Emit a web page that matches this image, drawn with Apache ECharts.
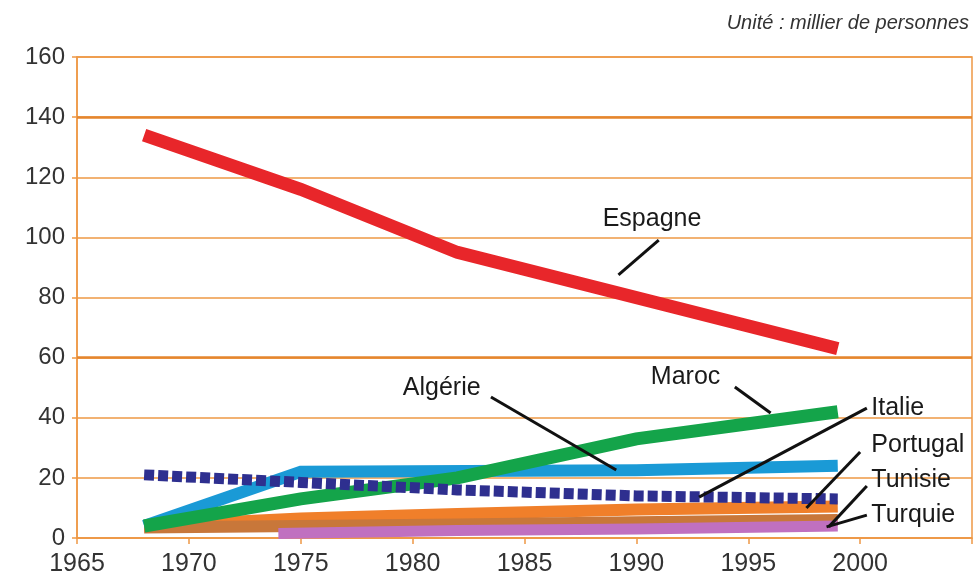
<!DOCTYPE html>
<html><head><meta charset="utf-8">
<script src="https://cdn.jsdelivr.net/npm/echarts@6/dist/echarts.min.js"></script>
<style>html,body{margin:0;padding:0;background:#fff}#c{width:978px;height:582px}</style>
</head><body><div id="c"></div>
<script>
// ---- data ----
const espagneYears = [1968, 1975, 1982, 1999];
const espagneVals  = [134, 116, 95, 63];
const algerieYears = [1968, 1975, 1990, 1999];
const algerieVals  = [4, 22, 22.5, 24];
const marocYears   = [1968, 1975, 1982, 1990, 1999];
const marocVals    = [4, 13, 20, 33, 42];
const italieYears  = [1968, 1975, 1982, 1990, 1999];
const italieVals   = [21, 18.5, 16, 14, 13];
const portugalYears= [1968, 1975, 1982, 1990, 1999];
const portugalVals = [4, 6.5, 8, 9.5, 10.5];
const tunisieYears = [1968, 1975, 1982, 1990, 1999];
const tunisieVals  = [3.5, 4, 4.5, 5.2, 6];
const turquieYears = [1974, 1982, 1990, 1999];
const turquieVals  = [1.5, 2.5, 3, 4];
const xTicks = [1965, 1970, 1975, 1980, 1985, 1990, 1995, 2000];
const yTicks = [0, 20, 40, 60, 80, 100, 120, 140, 160];
// annotation: [text, textYear, textVal, align, lineFromYear, lineFromVal, lineToYear, lineToVal]
const annotations = [
  ['Espagne', 1990.7, 106, 'center', 1991.0, 99.1, 1989.2, 87.5],
  ['Maroc',   1992.2, 53.6, 'center', 1994.4, 50.2, 1996.0, 41.6],
  ['Algérie', 1981.3, 49.9, 'center', 1983.5, 46.9, 1989.1, 22.6],
  ['Italie',  2000.5, 43.2, 'left',   2000.3, 43.2, 1992.8, 13.6],
  ['Portugal',2000.5, 30.9, 'left',   2000.0, 28.6, 1997.6, 10.0],
  ['Tunisie', 2000.5, 19.3, 'left',   2000.3, 17.3, 1998.6, 3.7],
  ['Turquie', 2000.5, 7.6,  'left',   2000.3, 7.6,  1998.5, 3.7]
];
// ---------------
const zip = (xs, ys) => xs.map((x, i) => [x, ys[i]]);
const orange = '#ee9845';
const FONT = 'Liberation Sans';
function lineSeries(name, xs, ys, color, width, dash, z) {
  return {
    name, type: 'line', data: zip(xs, ys), showSymbol: false, symbol: 'none',
    lineStyle: { color, width, type: dash || 'solid', cap: 'butt', join: 'miter' },
    z: z, animation: false
  };
}
const chart = echarts.init(document.getElementById('c'), null, { renderer: 'canvas' });
const option = {
  animation: false,
  backgroundColor: '#fff',
  title: {
    text: 'Unité : millier de personnes', right: 4, top: 8,
    textStyle: { fontFamily: FONT, fontStyle: 'italic', fontWeight: 'normal', fontSize: 20, color: '#333' }
  },
  grid: { left: 77, right: 6, top: 57, bottom: 44, show: true, borderColor: orange, borderWidth: 1.5 },
  xAxis: {
    type: 'value', min: 1965, max: 2005, interval: 5,
    axisLine: { lineStyle: { color: orange, width: 1.5 } },
    axisTick: { show: true, length: 6, lineStyle: { color: orange, width: 1.5 } },
    splitLine: { show: false },
    axisLabel: {
      fontFamily: FONT, fontSize: 25, color: '#333', margin: 14,
      formatter: v => xTicks.indexOf(v) >= 0 ? String(v) : ''
    }
  },
  yAxis: {
    type: 'value', min: 0, max: 160, interval: 20,
    axisLine: { show: true, lineStyle: { color: orange, width: 1.5 } },
    axisTick: { show: true, length: 5, lineStyle: { color: orange, width: 1.5 } },
    splitLine: { show: true, lineStyle: { color: orange, width: 1.5 } },
    axisLabel: {
      fontFamily: FONT, fontSize: 24, color: '#333', margin: 12,
      formatter: v => yTicks.indexOf(v) >= 0 ? String(v) : ''
    }
  },
  series: [
    {
      type: 'line', data: [], silent: true,
      markLine: {
        symbol: 'none', silent: true, label: { show: false },
        lineStyle: { color: '#e5862e', width: 2.5, type: 'solid' },
        data: [{ yAxis: 140 }, { yAxis: 60 }]
      }, z: 1
    },
    lineSeries('Portugal', portugalYears, portugalVals, '#f07f2a', 12, null, 2),
    lineSeries('Tunisie', tunisieYears, tunisieVals, '#c8773a', 12, null, 3),
    lineSeries('Turquie', turquieYears, turquieVals, '#c070c0', 11, null, 4),
    lineSeries('Algérie', algerieYears, algerieVals, '#1a9ad6', 12, null, 5),
    lineSeries('Maroc', marocYears, marocVals, '#14a44a', 13, null, 6),
    lineSeries('Italie', italieYears, italieVals, '#2e2f8f', 11, [10, 4], 7),
    lineSeries('Espagne', espagneYears, espagneVals, '#e8262a', 13, null, 8),
    {
      type: 'lines', coordinateSystem: 'cartesian2d', polyline: false, z: 10,
      lineStyle: { color: '#111', width: 3, opacity: 1 },
      data: annotations.map(a => ({ coords: [[a[4], a[5]], [a[6], a[7]]] })),
      animation: false
    },
    {
      type: 'scatter', symbolSize: 0, z: 11, animation: false, silent: true,
      itemStyle: { opacity: 0 },
      label: { show: true, position: 'inside', fontFamily: FONT, fontSize: 25, color: '#1a1a1a', opacity: 1 },
      data: annotations.map(a => ({
        value: [a[1], a[2]],
        label: { show: true, position: 'inside', formatter: a[0], align: a[3], verticalAlign: 'middle',
                 fontFamily: FONT, fontSize: 25, color: '#1a1a1a', opacity: 1 }
      }))
    }
  ]
};
chart.setOption(option);
</script></body></html>
